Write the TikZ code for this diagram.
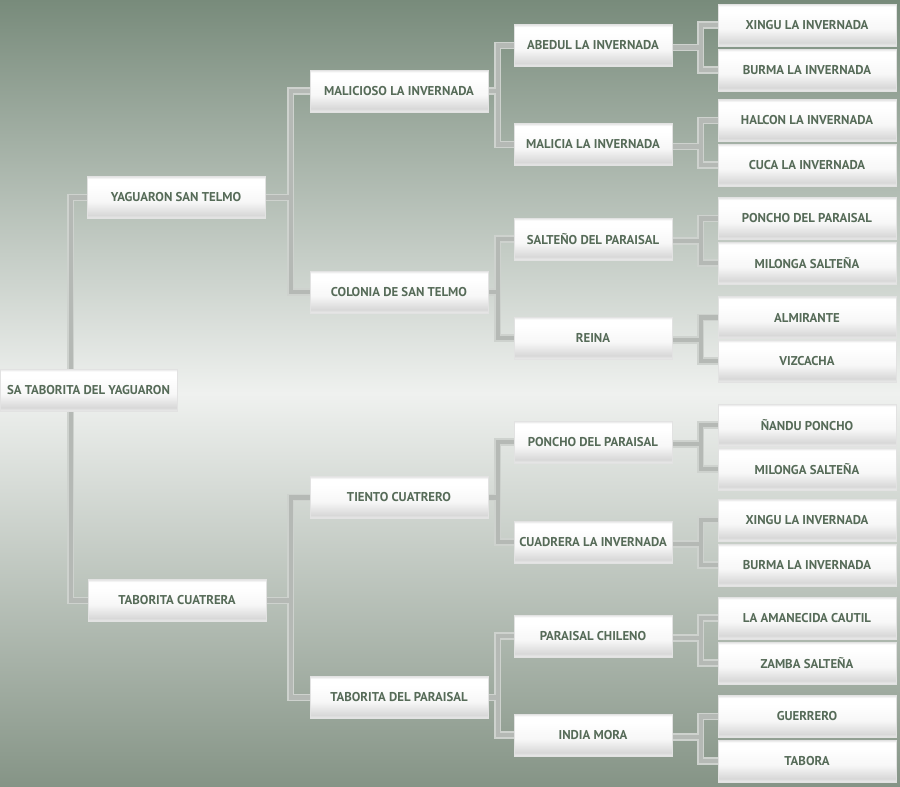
\documentclass[tikz,border=0pt]{standalone}
\usepackage{fontspec}
\setmainfont{PT Sans}
\usetikzlibrary{calc}
\definecolor{bgtop}{HTML}{788B7B}
\definecolor{bgmid}{HTML}{EFF1EF}
\definecolor{bgbot}{HTML}{859486}
\definecolor{txt}{HTML}{566B58}
\definecolor{lnout}{HTML}{CED2CE}
\definecolor{lnin}{HTML}{B5B9B5}
\definecolor{bxa}{HTML}{EBEBEB}
\definecolor{bxb}{HTML}{D8D8D8}
\definecolor{bxc}{HTML}{F7F7F7}
\definecolor{bxd}{HTML}{E2E2E2}
\pgfdeclareverticalshading{bgshade}{100bp}{color(0bp)=(bgbot); color(25bp)=(bgbot); color(50bp)=(bgmid); color(75bp)=(bgtop); color(100bp)=(bgtop)}
\pgfdeclareverticalshading{boxshade}{100bp}{color(0bp)=(bxa); color(25bp)=(bxa); color(29bp)=(bxb); color(45bp)=(bxc); color(65bp)=(white); color(72bp)=(white); color(75bp)=(bxd); color(100bp)=(bxd)}
\pgfdeclarelayer{back}
\pgfdeclarelayer{background}
\pgfsetlayers{back,background,main}
\tikzset{
  box/.style={shading=boxshade, draw=bxd, line width=0.6, minimum height=42, inner sep=0, text=txt, font=\fontsize{12.8}{14}\selectfont\bfseries},
  g0/.style={box, minimum width=177},
  g1/.style={box, minimum width=178},
  g2/.style={box, minimum width=178},
  g3/.style={box, minimum width=158},
  g4/.style={box, minimum width=178},
  conn/.style={line width=4.2, draw=lnin, line join=miter, preaction={draw=lnout, line width=7.4, line join=miter}}
}
\begin{document}
\begin{tikzpicture}[x=1pt,y=-1pt]
\useasboundingbox (0,0) rectangle (900,787);
\begin{pgfonlayer}{back}
\fill[shading=bgshade] (0,0) rectangle (900,787);
\end{pgfonlayer}
% generation 0
\node[g0] (r) at (88.5,390) {SA TABORITA DEL YAGUARON};
% generation 1
\node[g1] (s) at (176,197.5) {YAGUARON SAN TELMO};
\node[g1] (d) at (177,600.5) {TABORITA CUATRERA};
% generation 2
\node[g2] (ss) at (399,91) {MALICIOSO LA INVERNADA};
\node[g2] (sd) at (399,292) {COLONIA DE SAN TELMO};
\node[g2] (ds) at (399,497.5) {TIENTO CUATRERO};
\node[g2] (dd) at (399,697.5) {TABORITA DEL PARAISAL};
% generation 3
\node[g3] (sss) at (593,45.5) {ABEDUL LA INVERNADA};
\node[g3] (ssd) at (593,144.5) {MALICIA LA INVERNADA};
\node[g3] (sds) at (593,239) {SALTEÑO DEL PARAISAL};
\node[g3] (sdd) at (593,338) {REINA};
\node[g3] (dss) at (593,442) {PONCHO DEL PARAISAL};
\node[g3] (dsd) at (593,542) {CUADRERA LA INVERNADA};
\node[g3] (dds) at (593,636) {PARAISAL CHILENO};
\node[g3] (ddd) at (593,735) {INDIA MORA};
% generation 4
\node[g4] (a1) at (807,25) {XINGU LA INVERNADA};
\node[g4] (a2) at (807,70) {BURMA LA INVERNADA};
\node[g4] (a3) at (807,120.5) {HALCON LA INVERNADA};
\node[g4] (a4) at (807,165) {CUCA LA INVERNADA};
\node[g4] (a5) at (807,218.5) {PONCHO DEL PARAISAL};
\node[g4] (a6) at (807,263) {MILONGA SALTEÑA};
\node[g4] (a7) at (807,317.5) {ALMIRANTE};
\node[g4] (a8) at (807,361) {VIZCACHA};
\node[g4] (a9) at (807,425) {ÑANDU PONCHO};
\node[g4] (a10) at (807,469) {MILONGA SALTEÑA};
\node[g4] (a11) at (807,520) {XINGU LA INVERNADA};
\node[g4] (a12) at (807,565) {BURMA LA INVERNADA};
\node[g4] (a13) at (807,618) {LA AMANECIDA CAUTIL};
\node[g4] (a14) at (807,663) {ZAMBA SALTEÑA};
\node[g4] (a15) at (807,716.5) {GUERRERO};
\node[g4] (a16) at (807,761) {TABORA};
\begin{pgfonlayer}{background}
% gen0 -> gen1
\draw[conn] (s.west) -- ++(-16,0) |- (d.west);
% gen1 -> gen2
\draw[conn] (ss.west) -- ++(-19,0) |- (sd.west) (s.east) -- ($(ss.west |- s.east)+(-19,0)$);
\draw[conn] (ds.west) -- ++(-19,0) |- (dd.west) (d.east) -- ($(ds.west |- d.east)+(-19,0)$);
% gen2 -> gen3
\draw[conn] (sss.west) -- ++(-16,0) |- (ssd.west) (ss.east) -- ($(sss.west |- ss.east)+(-16,0)$);
\draw[conn] (sds.west) -- ++(-16,0) |- (sdd.west) (sd.east) -- ($(sds.west |- sd.east)+(-16,0)$);
\draw[conn] (dss.west) -- ++(-16,0) |- (dsd.west) (ds.east) -- ($(dss.west |- ds.east)+(-16,0)$);
\draw[conn] (dds.west) -- ++(-16,0) |- (ddd.west) (dd.east) -- ($(dds.west |- dd.east)+(-16,0)$);
% gen3 -> gen4
\draw[conn] (a1.west) -- ++(-17,0) |- (a2.west) ($(sss.east)+(0,2)$) -- ($(a1.west |- sss.east)+(-17,2)$);
\draw[conn] (a3.west) -- ++(-17,0) |- (a4.west) ($(ssd.east)+(0,2)$) -- ($(a3.west |- ssd.east)+(-17,2)$);
\draw[conn] (a5.west) -- ++(-17,0) |- (a6.west) ($(sds.east)+(0,2)$) -- ($(a5.west |- sds.east)+(-17,2)$);
\draw[conn] (a7.west) -- ++(-17,0) |- (a8.west) ($(sdd.east)+(0,2)$) -- ($(a7.west |- sdd.east)+(-17,2)$);
\draw[conn] (a9.west) -- ++(-17,0) |- (a10.west) ($(dss.east)+(0,2)$) -- ($(a9.west |- dss.east)+(-17,2)$);
\draw[conn] (a11.west) -- ++(-17,0) |- (a12.west) ($(dsd.east)+(0,2)$) -- ($(a11.west |- dsd.east)+(-17,2)$);
\draw[conn] (a13.west) -- ++(-17,0) |- (a14.west) ($(dds.east)+(0,2)$) -- ($(a13.west |- dds.east)+(-17,2)$);
\draw[conn] (a15.west) -- ++(-17,0) |- (a16.west) ($(ddd.east)+(0,2)$) -- ($(a15.west |- ddd.east)+(-17,2)$);
\end{pgfonlayer}
\end{tikzpicture}
\end{document}
